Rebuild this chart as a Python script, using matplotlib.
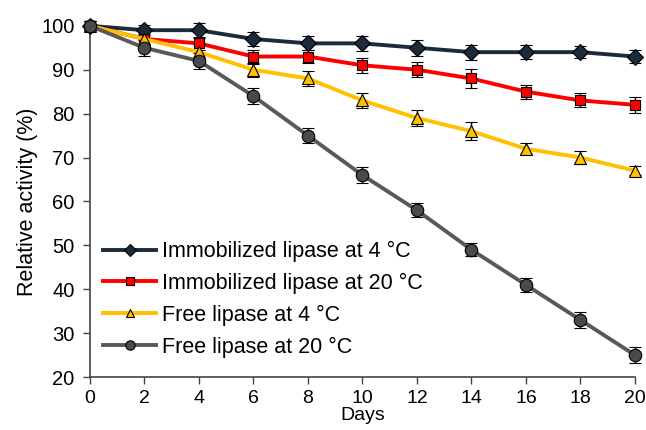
import matplotlib
matplotlib.use('Agg')
import matplotlib.pyplot as plt

plt.rcParams['font.family'] = ['Liberation Sans', 'DejaVu Sans']

# 储存天数与相对活性
days = [0, 2, 4, 6, 8, 10, 12, 14, 16, 18, 20]
imm_4 = [100, 99, 99, 97, 96, 96, 95, 94, 94, 94, 93]
imm_4_err = [1.0, 1.1, 1.7, 1.5, 1.6, 1.7, 1.8, 1.7, 1.6, 1.4, 1.5]
imm_20 = [100, 97, 96, 93, 93, 91, 90, 88, 85, 83, 82]
imm_20_err = [1.0, 1.2, 1.5, 1.6, 1.5, 1.7, 1.7, 2.1, 1.6, 1.6, 1.9]
free_4 = [100, 97, 94, 90, 88, 83, 79, 76, 72, 70, 67]
free_4_err = [1.0, 1.5, 1.8, 1.6, 1.7, 1.7, 1.9, 2.0, 1.3, 1.4, 1.0]
free_20 = [100, 95, 92, 84, 75, 66, 58, 49, 41, 33, 25]
free_20_err = [1.2, 1.8, 1.8, 1.8, 1.7, 1.8, 1.6, 1.5, 1.6, 1.8, 1.8]

labels = ['Immobilized lipase at 4 °C', 'Immobilized lipase at 20 °C',
          'Free lipase at 4 °C', 'Free lipase at 20 °C']

series = [
    (imm_4, imm_4_err, '#1C2B3B', '#1C2B3B', 'D', 8),
    (imm_20, imm_20_err, '#FF0000', '#FF0000', 's', 7),
    (free_4, free_4_err, '#FFC000', '#FFC000', '^', 8.5),
    (free_20, free_20_err, '#595959', '#4A4A4A', 'o', 9),
]

fig = plt.figure(figsize=(6.46, 4.30), dpi=100)
ax = fig.add_axes([0.139, 0.123, 0.844, 0.817])

for (vals, err, lc, mc, mk, ms), lab in zip(series, labels):
    ax.errorbar(days, vals, yerr=err, color=lc, linewidth=2.8,
                marker=mk, markersize=ms, markerfacecolor=mc,
                markeredgecolor='black', markeredgewidth=0.8,
                ecolor='black', elinewidth=1.0, capsize=4, capthick=1.0,
                label=lab, clip_on=False, zorder=3)

ax.set_xlim(0, 20)
ax.set_ylim(20, 100)
ax.set_xticks(range(0, 21, 2))
ax.set_yticks(range(20, 101, 10))
ax.tick_params(direction='out', length=5, width=1, color='#444444',
               labelsize=14.5)
ax.tick_params(axis='x', labelsize=14, pad=4)
ax.tick_params(axis='y', pad=6)
for side in ['top', 'right']:
    ax.spines[side].set_visible(False)
for side in ['left', 'bottom']:
    ax.spines[side].set_color('#444444')
    ax.spines[side].set_linewidth(1.2)

ax.set_xlabel('Days', fontsize=14, labelpad=0)
ax.set_ylabel('Relative activity (%)', fontsize=15.5, labelpad=2)

handles, labs = ax.get_legend_handles_labels()
handles = [h[0] for h in handles]
ax.legend(handles, labs, loc='lower left', bbox_to_anchor=(-0.012, 0.0),
          frameon=False, fontsize=15.5, handlelength=2.5, handletextpad=0.25,
          labelspacing=0.5, markerscale=0.75)

plt.savefig('out.png', dpi=100)
plt.close()
